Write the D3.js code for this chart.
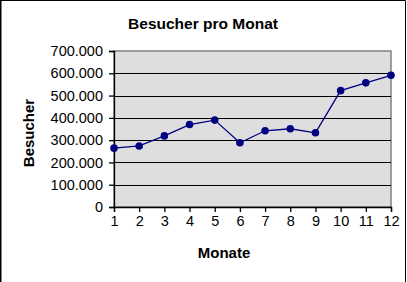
<!DOCTYPE html>
<html lang="de">
<head>
<meta charset="UTF-8">
<title>Besucher pro Monat</title>
<script src="https://cdn.jsdelivr.net/npm/d3@7/dist/d3.min.js"></script>
<style>
body { margin: 0; background: #fff; }
text { font-family: Arial, 'Liberation Sans', sans-serif; fill: #000; }
</style>
</head>
<body>
<script>
// Monate und Besucher
const months = [1, 2, 3, 4, 5, 6, 7, 8, 9, 10, 11, 12];
const visitors = [264000, 274000, 319000, 370000, 390000, 288000, 342000, 351000, 333000, 522000, 557000, 591000];
const yTicks = [0, 100000, 200000, 300000, 400000, 500000, 600000, 700000];

const W = 407, H = 282;
const plot = { left: 114, right: 391, top: 51, bottom: 207 };

const svg = d3.select('body').append('svg')
    .attr('width', W)
    .attr('height', H);

// outer frame
svg.append('path')
    .attr('d', `M1,${H} V0.5 H405.5 V${H}`)
    .attr('fill', 'none')
    .attr('stroke', '#000')
    .attr('stroke-width', 1);
svg.append('line').attr('x1', 0.5).attr('x2', 0.5).attr('y1', 0).attr('y2', H)
    .attr('stroke', '#000');

const x = d3.scaleLinear().domain([1, 12]).range([plot.left, plot.right]);
const y = d3.scaleLinear().domain([0, 700000]).range([plot.bottom, plot.top]);

// plot area
svg.append('rect')
    .attr('x', plot.left).attr('y', plot.top)
    .attr('width', plot.right - plot.left)
    .attr('height', plot.bottom - plot.top)
    .attr('fill', '#dedede')
    .attr('stroke', '#808080')
    .attr('stroke-width', 1.5);

// gridlines
svg.append('g')
    .selectAll('line')
    .data(yTicks.filter(d => d > 0 && d < 700000))
    .enter().append('line')
    .attr('x1', plot.left).attr('x2', plot.right)
    .attr('y1', d => Math.round(y(d)) + 0.5)
    .attr('y2', d => Math.round(y(d)) + 0.5)
    .attr('stroke', '#000')
    .attr('stroke-width', 1.2);

const fmt = d => d3.format(',')(d).replace(/,/g, '.');

// y axis
const yAxis = svg.append('g')
    .attr('transform', `translate(${plot.left},0)`)
    .call(d3.axisLeft(y).tickValues(yTicks).tickSize(5).tickPadding(6).tickFormat(fmt));
yAxis.selectAll('text').style('font-size', '14.5px');

// x axis
const xAxis = svg.append('g')
    .attr('transform', `translate(0,${plot.bottom})`)
    .call(d3.axisBottom(x).tickValues(months).tickSize(5).tickPadding(4).tickFormat(d3.format('d')));
xAxis.selectAll('text').style('font-size', '14.5px');

[yAxis, xAxis].forEach(a => {
    a.select('.domain').attr('stroke', '#000').attr('stroke-width', 1.3);
    a.selectAll('.tick line').attr('stroke', '#000').attr('stroke-width', 1.3);
});

// series line
const line = d3.line()
    .x((d, i) => x(months[i]))
    .y(d => y(d));

svg.append('path')
    .datum(visitors)
    .attr('d', line)
    .attr('fill', 'none')
    .attr('stroke', '#000080')
    .attr('stroke-width', 1.3);

svg.append('g')
    .selectAll('circle')
    .data(visitors)
    .enter().append('circle')
    .attr('cx', (d, i) => x(months[i]))
    .attr('cy', d => y(d))
    .attr('r', 3.8)
    .attr('fill', '#000080');

// titles
svg.append('text')
    .attr('x', 203).attr('y', 29)
    .attr('text-anchor', 'middle')
    .style('font-size', '15.5px')
    .style('font-weight', 'bold')
    .text('Besucher pro Monat');

svg.append('text')
    .attr('x', 224).attr('y', 258)
    .attr('text-anchor', 'middle')
    .style('font-size', '15px')
    .style('font-weight', 'bold')
    .text('Monate');

svg.append('text')
    .attr('transform', 'translate(34,133) rotate(-90)')
    .attr('text-anchor', 'middle')
    .style('font-size', '15px')
    .style('font-weight', 'bold')
    .text('Besucher');
</script>
</body>
</html>
